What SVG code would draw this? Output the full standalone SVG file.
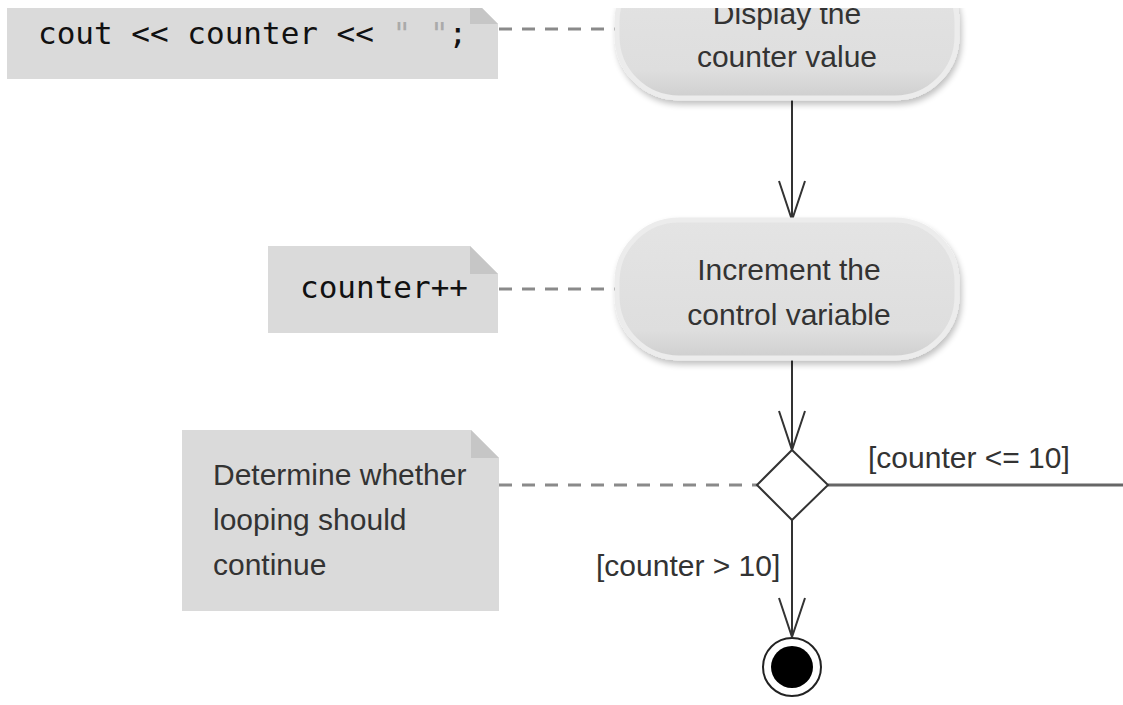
<svg xmlns="http://www.w3.org/2000/svg" width="1123" height="705" viewBox="0 0 1123 705">
<style>
.note{fill:#dadada}
.fold{fill:#c6c6c6}
.code{font-family:"DejaVu Sans Mono","Liberation Mono",monospace;font-size:31px;fill:#111}
.lbl{font-family:"Liberation Sans","DejaVu Sans",sans-serif;font-size:30px;fill:#333}
.flow{stroke:#333;stroke-width:2;fill:none}
.dash{stroke:#8a8a8a;stroke-width:3;stroke-dasharray:13 10;fill:none}
</style>
<defs>
<clipPath id="vis"><rect x="0" y="8" width="1123" height="697"/></clipPath>
<linearGradient id="pill" x1="0" y1="0" x2="0" y2="1">
<stop offset="0" stop-color="#e4e4e4"/>
<stop offset="0.8" stop-color="#dedede"/>
<stop offset="1" stop-color="#cfcfcf"/>
</linearGradient>
<filter id="sh" x="-10%" y="-10%" width="130%" height="130%">
<feGaussianBlur in="SourceAlpha" stdDeviation="3"/>
<feOffset dx="2" dy="4"/>
<feComponentTransfer><feFuncA type="linear" slope="0.25"/></feComponentTransfer>
<feMerge><feMergeNode/><feMergeNode in="SourceGraphic"/></feMerge>
</filter>
<marker id="open" viewBox="0 0 40 30" refX="40" refY="15" markerWidth="40" markerHeight="30" markerUnits="userSpaceOnUse" orient="auto">
<path d="M1,2 L40,15 L1,28" fill="none" stroke="#333" stroke-width="2"/>
</marker>
</defs>
<g clip-path="url(#vis)">
<g id="connectors">
<line class="dash" x1="499" y1="29" x2="617" y2="29"/>
<line class="dash" x1="499" y1="289" x2="617" y2="289"/>
<line class="dash" x1="499" y1="485" x2="757" y2="485"/>
<path class="flow" d="M792,98 V220" marker-end="url(#open)"/>
<path class="flow" d="M792,358 V450" marker-end="url(#open)"/>
<path class="flow" d="M792,520 V637" marker-end="url(#open)"/>
<line x1="828" y1="485" x2="1123" y2="485" stroke="#666" stroke-width="3"/>
<text class="lbl" x="868" y="468">[counter &lt;= 10]</text>
<text class="lbl" x="596" y="576">[counter &gt; 10]</text>
</g>
<g id="note-cout">
<path class="note" d="M7,-4 H470 L498,24 V79 H7 Z"/>
<path class="fold" d="M470,-4 V24 H498 Z"/>
<text class="code" x="38" y="44">cout &lt;&lt; counter &lt;&lt; <tspan fill="#aaa">" "</tspan>;</text>
</g>
<g id="action-display">
<rect x="617" y="-40" width="340" height="138" rx="62" ry="62" fill="url(#pill)" stroke="#ececec" stroke-width="5" filter="url(#sh)"/>
<text class="lbl" x="787" y="24" text-anchor="middle">Display the</text>
<text class="lbl" x="787" y="67" text-anchor="middle">counter value</text>
</g>
<g id="note-inc">
<path class="note" d="M268,246 H470 L498,274 V333 H268 Z"/>
<path class="fold" d="M470,246 V274 H498 Z"/>
<text class="code" x="300" y="298">counter++</text>
</g>
<g id="action-increment">
<rect x="617" y="220" width="340" height="138" rx="62" ry="62" fill="url(#pill)" stroke="#ececec" stroke-width="5" filter="url(#sh)"/>
<text class="lbl" x="789" y="280" text-anchor="middle">Increment the</text>
<text class="lbl" x="789" y="325" text-anchor="middle">control variable</text>
</g>
<g id="note-decision">
<path class="note" d="M182,430 H471 L499,458 V611 H182 Z"/>
<path class="fold" d="M471,430 V458 H499 Z"/>
<text class="lbl" x="213" y="485">Determine whether</text>
<text class="lbl" x="213" y="530">looping should</text>
<text class="lbl" x="213" y="575">continue</text>
</g>
<g id="decision">
<path d="M792,450 L828,485 L792,520 L757,485 Z" fill="#fff" stroke="#333" stroke-width="2"/>
</g>
<g id="final">
<circle cx="792" cy="667" r="29" fill="#fff" stroke="#222" stroke-width="2"/>
<circle cx="792" cy="667" r="21" fill="#000"/>
</g>
</g>
</svg>
